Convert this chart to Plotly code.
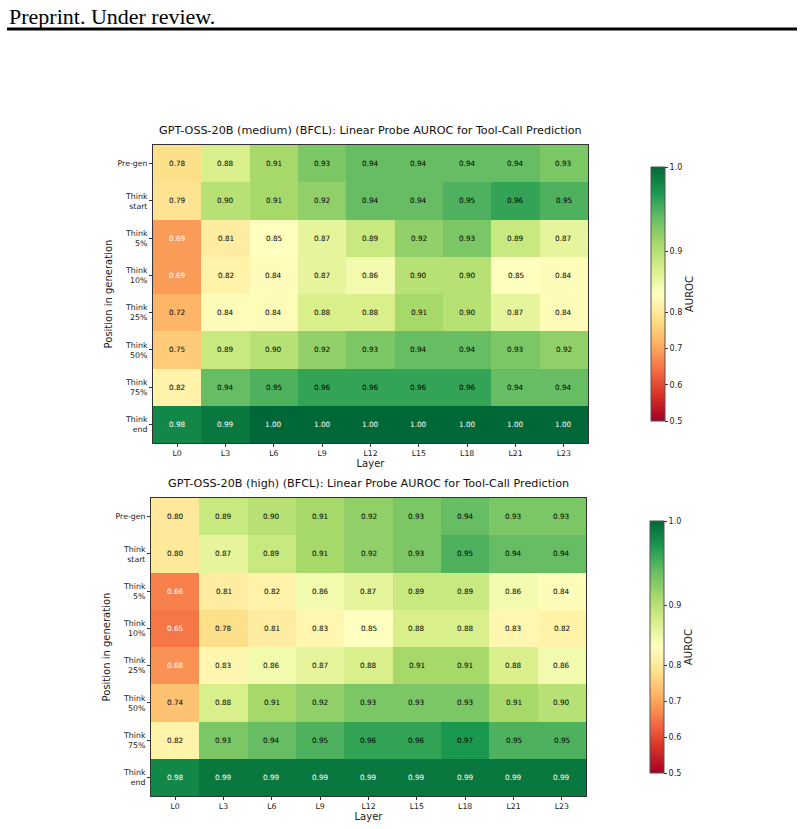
import plotly.graph_objects as go
import plotly.express as px

layers = ["L0", "L3", "L6", "L9", "L12", "L15", "L18", "L21", "L23"]
positions = ["Pre-gen", "Think<br>start", "Think<br>5%", "Think<br>10%", "Think<br>25%",
             "Think<br>50%", "Think<br>75%", "Think<br>end"]

auroc_medium = [
    [0.78, 0.88, 0.91, 0.93, 0.94, 0.94, 0.94, 0.94, 0.93],
    [0.79, 0.90, 0.91, 0.92, 0.94, 0.94, 0.95, 0.96, 0.95],
    [0.69, 0.81, 0.85, 0.87, 0.89, 0.92, 0.93, 0.89, 0.87],
    [0.69, 0.82, 0.84, 0.87, 0.86, 0.90, 0.90, 0.85, 0.84],
    [0.72, 0.84, 0.84, 0.88, 0.88, 0.91, 0.90, 0.87, 0.84],
    [0.75, 0.89, 0.90, 0.92, 0.93, 0.94, 0.94, 0.93, 0.92],
    [0.82, 0.94, 0.95, 0.96, 0.96, 0.96, 0.96, 0.94, 0.94],
    [0.98, 0.99, 1.00, 1.00, 1.00, 1.00, 1.00, 1.00, 1.00],
]
auroc_high = [
    [0.80, 0.89, 0.90, 0.91, 0.92, 0.93, 0.94, 0.93, 0.93],
    [0.80, 0.87, 0.89, 0.91, 0.92, 0.93, 0.95, 0.94, 0.94],
    [0.66, 0.81, 0.82, 0.86, 0.87, 0.89, 0.89, 0.86, 0.84],
    [0.65, 0.78, 0.81, 0.83, 0.85, 0.88, 0.88, 0.83, 0.82],
    [0.68, 0.83, 0.86, 0.87, 0.88, 0.91, 0.91, 0.88, 0.86],
    [0.74, 0.88, 0.91, 0.92, 0.93, 0.93, 0.93, 0.91, 0.90],
    [0.82, 0.93, 0.94, 0.95, 0.96, 0.96, 0.97, 0.95, 0.95],
    [0.98, 0.99, 0.99, 0.99, 0.99, 0.99, 0.99, 0.99, 0.99],
]
cbar_ticks = [0.5, 0.6, 0.7, 0.8, 0.9, 1.0]
titles = ["GPT-OSS-20B (medium) (BFCL): Linear Probe AUROC for Tool-Call Prediction",
          "GPT-OSS-20B (high) (BFCL): Linear Probe AUROC for Tool-Call Prediction"]

VMIN, VCENTER, VMAX = 0.5, 0.85, 1.0


def norm(v):
    # two-slope normalisation (colour mapping only)
    if v <= VCENTER:
        return 0.5 * (v - VMIN) / (VCENTER - VMIN)
    return 0.5 + 0.5 * (v - VCENTER) / (VMAX - VCENTER)


cols = px.colors.diverging.RdYlGn
cscale = [[i / (len(cols) - 1), c] for i, c in enumerate(cols)]

W, H = 804, 829
panels = [
    dict(data=auroc_medium, x0=153, x1=588, y0=145, y1=443, cb_x=651, cb_y0=167, cb_y1=421),
    dict(data=auroc_high, x0=151, x1=586, y0=498, y1=796, cb_x=650, cb_y0=521, cb_y1=773),
]

fig = go.Figure()
annotations = []
layout = {}
for k, p in enumerate(panels):
    sfx = "" if k == 0 else str(k + 1)
    xa, ya = "x" + sfx, "y" + sfx
    z = [[norm(v) for v in row] for row in p["data"]]
    fig.add_trace(go.Heatmap(
        z=z, x=list(range(len(layers))), y=list(range(len(positions))),
        zmin=0, zmax=1, colorscale=cscale, xaxis=xa, yaxis=ya,
        hoverinfo="skip",
        colorbar=dict(
            x=p["cb_x"] / W, xanchor="left",
            y=1 - (p["cb_y0"] + p["cb_y1"]) / 2 / H, yanchor="middle",
            len=(p["cb_y1"] - p["cb_y0"]) / H, lenmode="fraction",
            thickness=14, thicknessmode="pixels",
            outlinewidth=1, outlinecolor="#555",
            tickvals=[norm(t) for t in cbar_ticks],
            ticktext=[f"{t:.1f}" for t in cbar_ticks],
            ticks="outside", ticklen=3, tickcolor="#333",
            tickfont=dict(size=8, color="#222", family="DejaVu Sans"),
            title=dict(text="AUROC", side="right",
                       font=dict(size=10, color="#222", family="DejaVu Sans")),
            xpad=0, ypad=0,
        ),
    ))
    axis_common = dict(showline=True, mirror=True, linecolor="#333", linewidth=1,
                       ticks="outside", ticklen=3, tickcolor="#333", showgrid=False,
                       zeroline=False, tickfont=dict(size=7.8, color="#222", family="DejaVu Sans"))
    layout["xaxis" + sfx] = dict(
        domain=[p["x0"] / W, p["x1"] / W], anchor=ya,
        tickvals=list(range(len(layers))), ticktext=layers,
        range=[-0.5, len(layers) - 0.5],
        title=dict(text="Layer", standoff=2, font=dict(size=10, color="#222", family="DejaVu Sans")),
        **axis_common)
    layout["yaxis" + sfx] = dict(
        domain=[1 - p["y1"] / H, 1 - p["y0"] / H], anchor=xa,
        tickvals=list(range(len(positions))), ticktext=positions,
        range=[len(positions) - 0.5, -0.5],
        title=dict(text="Position in generation", standoff=3,
                   font=dict(size=10, color="#222", family="DejaVu Sans")),
        **axis_common)
    for i, row in enumerate(p["data"]):
        for j, v in enumerate(row):
            t = norm(v)
            color = "white" if (t < 0.3 or t > 0.92) else "black"
            annotations.append(dict(x=j, y=i, xref=xa, yref=ya, text=f"{v:.2f}",
                                    showarrow=False,
                                    font=dict(size=7.3, color=color, family="DejaVu Sans")))
    annotations.append(dict(x=(p["x0"] + p["x1"]) / 2 / W, y=1 - (p["y0"] - 6) / H,
                            xref="paper", yref="paper", xanchor="center", yanchor="bottom",
                            text=titles[k], showarrow=False,
                            font=dict(size=11.2, color="#111", family="DejaVu Sans")))

annotations.append(dict(x=7 / W, y=1 - 2 / H, xref="paper", yref="paper", xanchor="left",
                        yanchor="top", text="Preprint. Under review.", showarrow=False,
                        font=dict(size=22, color="black", family="Liberation Serif")))

fig.update_layout(
    width=W, height=H, margin=dict(l=0, r=0, t=0, b=0),
    paper_bgcolor="white", plot_bgcolor="white",
    annotations=annotations,
    shapes=[dict(type="line", xref="paper", yref="paper", x0=7 / W, x1=797 / W,
                 y0=1 - 29 / H, y1=1 - 29 / H, line=dict(color="black", width=3))],
    **layout,
)
fig.write_html("out.html")
